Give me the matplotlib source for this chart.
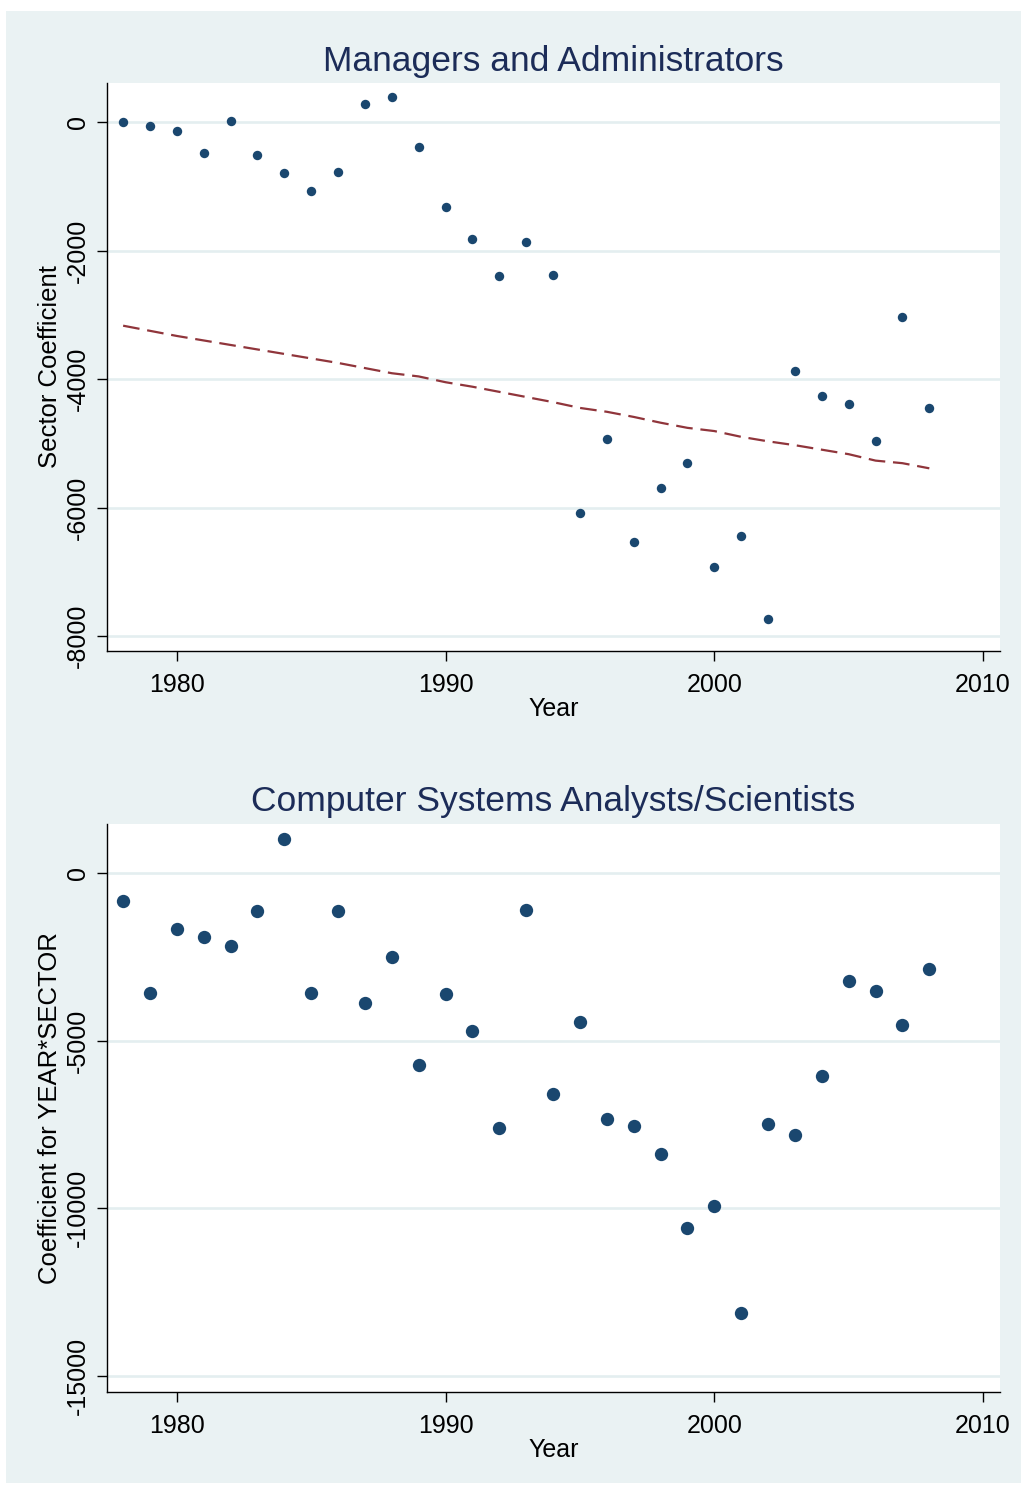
import matplotlib
matplotlib.use("Agg")
import matplotlib.pyplot as plt
from matplotlib.patches import Rectangle

plt.rcParams["font.family"] = ["Liberation Sans", "DejaVu Sans"]
plt.rcParams["axes.unicode_minus"] = False

years = list(range(1978, 2009))

# Managers and Administrators: sector coefficient by year
managers = [0, -56, -140, -485, 10, -520, -793, -1075, -772, 277, 382, -391,
            -1316, -1816, -2396, -1873, -2385, -6090, -4940, -6540, -5700,
            -5300, -6930, -6440, -7740, -3880, -4260, -4390, -4970, -3040, -4450]
# fitted (dashed) line
managers_fit = [-3170, -3250, -3330, -3400, -3470, -3540, -3610, -3680, -3750,
                -3830, -3910, -3960, -4050, -4120, -4200, -4280, -4360, -4450,
                -4510, -4590, -4680, -4760, -4810, -4900, -4970, -5030, -5100,
                -5170, -5270, -5310, -5390]

# Computer Systems Analysts/Scientists
computer = [-835, -3580, -1670, -1910, -2180, -1130, 1010, -3580, -1130, -3880,
            -2510, -5730, -3610, -4710, -7600, -1100, -6590, -4440, -7340,
            -7550, -8380, -10590, -9940, -13130, -7490, -7810, -6060, -3220,
            -3520, -4530, -2860]

titles = ["Managers and Administrators", "Computer Systems Analysts/Scientists"]
ylabels = ["Sector Coefficient", "Coefficient for YEAR*SECTOR"]
yticks = [[0, -2000, -4000, -6000, -8000], [0, -5000, -10000, -15000]]
ylims = [(-8233, 607), (-15480, 1460)]
xticks = [1980, 1990, 2000, 2010]

BG = "#eaf2f3"
NAVY = "#1a476f"
TITLE = "#1c2c58"
MAROON = "#90353b"

W, H = 1021, 1487
fig = plt.figure(figsize=(W / 100, H / 100), dpi=100, facecolor="white")
fig.patches.append(Rectangle((6 / W, 4 / H), 1 - 6 / W, 1 - 15 / H,
                             transform=fig.transFigure, facecolor=BG,
                             edgecolor="none", zorder=-10))

left, right = 107 / W, 1000 / W
boxes = [(83, 651), (824, 1392)]
sizes = [46, 92]
series = [managers, computer]

for i in range(2):
    top, bot = boxes[i]
    ax = fig.add_axes([left, 1 - bot / H, right - left, (bot - top) / H])
    ax.set_facecolor("white")
    ax.scatter(years, series[i], s=sizes[i], color=NAVY, linewidths=0, zorder=3)
    if i == 0:
        ax.plot(years, managers_fit, color=MAROON, lw=1.6, dashes=(7.5, 3.5), zorder=2)

    ax.set_xlim(1977.4, 2010.63)
    ax.set_ylim(*ylims[i])
    ax.set_xticks(xticks)
    ax.set_yticks(yticks[i])
    ax.grid(axis="y", color="#e4eef0", lw=1.9, zorder=0)
    ax.set_axisbelow(True)
    for s in ("top", "right"):
        ax.spines[s].set_visible(False)
    for s in ("left", "bottom"):
        ax.spines[s].set_color("black")
        ax.spines[s].set_linewidth(1.0)
    ax.tick_params(axis="both", direction="out", length=7, width=1.0,
                   labelsize=18, colors="black")
    ax.tick_params(axis="x", pad=9)
    ax.tick_params(axis="y", pad=5)
    plt.setp(ax.get_yticklabels(), rotation=90, va="center")

    ax.set_title(titles[i], fontsize=25.5, color=TITLE, pad=9)
    ax.set_xlabel("Year", fontsize=18)
    ax.set_ylabel(ylabels[i], fontsize=18.5)
    ax.xaxis.set_label_coords(0.5, -0.081)
    ax.yaxis.set_label_coords(-0.05, 0.5)

fig.savefig("out.png", dpi=100, facecolor="white")
